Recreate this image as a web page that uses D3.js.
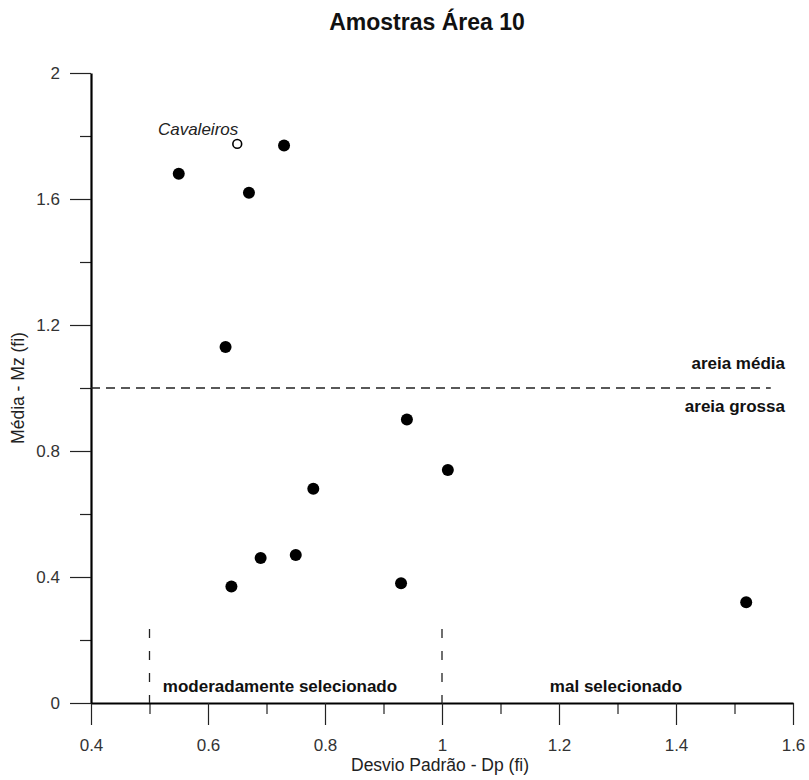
<!DOCTYPE html>
<html>
<head>
<meta charset="utf-8">
<script src="https://cdn.jsdelivr.net/npm/d3@7"></script>
<style>
  body { margin: 0; background: #fff; }
  svg text { font-family: "Liberation Sans", Arial, sans-serif; }
</style>
</head>
<body>
<div id="chart"></div>
<script>
// Chart size
var width = 809;
var height = 780;

// Data: desvio padrao (x) and media (y)
var sampleDp = [0.55, 0.73, 0.67, 0.63, 0.94, 1.01, 0.78, 0.69, 0.75, 0.64, 0.93, 1.52];
var sampleMz = [1.68, 1.77, 1.62, 1.13, 0.90, 0.74, 0.68, 0.46, 0.47, 0.37, 0.38, 0.32];

// Reference sample (open circle)
var refName = ["Cavaleiros"];
var refDp = [0.65];
var refMz = [1.775];

// Tick values
var xMajor = [0.4, 0.6, 0.8, 1.0, 1.2, 1.4, 1.6];
var xMinor = [0.5, 0.7, 0.9, 1.1, 1.3, 1.5];
var yMajor = [0, 0.4, 0.8, 1.2, 1.6, 2.0];
var yMinor = [0.2, 0.6, 1.0, 1.4, 1.8];

// Class limits
var sandLimit = [1.0];
var sortLimits = [0.5, 1.0];

var svg = d3.select("#chart")
  .append("svg")
  .attr("width", width)
  .attr("height", height);

var xScale = d3.scaleLinear().domain([0.4, 1.6]).range([91, 793]);
var yScale = d3.scaleLinear().domain([0, 2]).range([703, 73]);

// Title
svg.append("text")
  .attr("x", 427)
  .attr("y", 30)
  .attr("text-anchor", "middle")
  .style("font-size", "23px")
  .style("font-weight", "bold")
  .style("fill", "#111")
  .text("Amostras Área 10");

// Minor ticks first, then major axis on top
svg.append("g")
  .attr("transform", "translate(0," + yScale(0) + ")")
  .call(d3.axisBottom(xScale).tickValues(xMinor).tickSize(11).tickFormat(""))
  .call(function (g) { g.select(".domain").remove(); });

svg.append("g")
  .attr("transform", "translate(" + xScale(0.4) + ",0)")
  .call(d3.axisLeft(yScale).tickValues(yMinor).tickSize(11).tickFormat(""))
  .call(function (g) { g.select(".domain").remove(); });

var xAxis = svg.append("g")
  .attr("transform", "translate(0," + yScale(0) + ")")
  .call(d3.axisBottom(xScale).tickValues(xMajor).tickSize(22).tickSizeOuter(0).tickPadding(14)
    .tickFormat(function (d) { return d3.format("")(+d.toFixed(1)); }));

var yAxis = svg.append("g")
  .attr("transform", "translate(" + xScale(0.4) + ",0)")
  .call(d3.axisLeft(yScale).tickValues(yMajor).tickSize(21).tickSizeOuter(0).tickPadding(10)
    .tickFormat(function (d) { return d3.format("")(+d.toFixed(1)); }));

[xAxis, yAxis].forEach(function (ax) {
  ax.select(".domain").attr("stroke", "#000").attr("stroke-width", 2.2);
  ax.selectAll(".tick text")
    .style("font-size", "17px")
    .style("fill", "#333")
    .style("font-family", "'Liberation Sans', Arial, sans-serif");
});
svg.selectAll(".tick line").attr("stroke", "#222").attr("stroke-width", 1.2);

// Axis titles
svg.append("text")
  .attr("x", 440)
  .attr("y", 771)
  .attr("text-anchor", "middle")
  .style("font-size", "17.5px")
  .style("fill", "#222")
  .text("Desvio Padrão - Dp (fi)");

svg.append("text")
  .attr("transform", "translate(24," + yScale(1) + ") rotate(-90)")
  .attr("text-anchor", "middle")
  .style("font-size", "17.5px")
  .style("fill", "#222")
  .text("Média - Mz (fi)");

// Horizontal dashed limit (areia media / areia grossa)
svg.selectAll(".hlimit")
  .data(sandLimit)
  .enter().append("line")
  .attr("class", "hlimit")
  .attr("x1", xScale(0.4))
  .attr("x2", xScale(1.562))
  .attr("y1", function (d) { return yScale(d); })
  .attr("y2", function (d) { return yScale(d); })
  .attr("stroke", "#222")
  .attr("stroke-width", 1.3)
  .attr("stroke-dasharray", "9,6");

// Vertical dashed limits (sorting classes)
svg.selectAll(".vlimit")
  .data(sortLimits)
  .enter().append("line")
  .attr("class", "vlimit")
  .attr("x1", function (d) { return xScale(d); })
  .attr("x2", function (d) { return xScale(d); })
  .attr("y1", yScale(0.235))
  .attr("y2", yScale(0))
  .attr("stroke", "#222")
  .attr("stroke-width", 1.3)
  .attr("stroke-dasharray", "9,13");

// Class labels
function boldLabel(x, y, anchor, txt) {
  svg.append("text")
    .attr("x", x)
    .attr("y", y)
    .attr("text-anchor", anchor)
    .style("font-size", "17px")
    .style("font-weight", "bold")
    .style("fill", "#111")
    .text(txt);
}
boldLabel(785, yScale(1) - 19, "end", "areia média");
boldLabel(785, yScale(1) + 24, "end", "areia grossa");
boldLabel(280, yScale(0) - 11, "middle", "moderadamente selecionado");
boldLabel(616, yScale(0) - 11, "middle", "mal selecionado");

// Samples
var samples = sampleDp.map(function (d, i) { return { dp: d, mz: sampleMz[i] }; });

svg.selectAll(".sample")
  .data(samples)
  .enter().append("circle")
  .attr("class", "sample")
  .attr("cx", function (d) { return xScale(d.dp); })
  .attr("cy", function (d) { return yScale(d.mz); })
  .attr("r", 6)
  .style("fill", "#000");

// Reference sample
var refs = refDp.map(function (d, i) { return { dp: d, mz: refMz[i], name: refName[i] }; });

svg.selectAll(".ref")
  .data(refs)
  .enter().append("circle")
  .attr("class", "ref")
  .attr("cx", function (d) { return xScale(d.dp); })
  .attr("cy", function (d) { return yScale(d.mz); })
  .attr("r", 4.4)
  .style("fill", "#fff")
  .style("stroke", "#000")
  .style("stroke-width", 1.6);

svg.selectAll(".refLabel")
  .data(refs)
  .enter().append("text")
  .attr("class", "refLabel")
  .attr("x", function (d) { return xScale(d.dp) + 1; })
  .attr("y", function (d) { return yScale(d.mz) - 9; })
  .attr("text-anchor", "end")
  .style("font-size", "17px")
  .style("font-style", "italic")
  .style("fill", "#222")
  .text(function (d) { return d.name; });
</script>
</body>
</html>
